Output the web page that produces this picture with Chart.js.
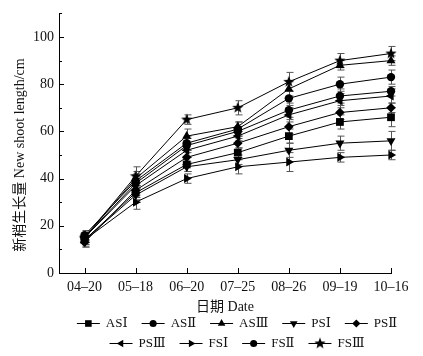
<!DOCTYPE html>
<html lang="zh">
<head>
<meta charset="UTF-8">
<title>New shoot length</title>
<script src="https://cdn.jsdelivr.net/npm/chart.js"></script>
<style>
    body { margin: 0; background: #fff; }
    #wrap { width: 423px; height: 356px; }
</style>
</head>
<body>
<div id="wrap"><canvas id="chart" width="423" height="356"></canvas></div>
<script>
// dates on the x axis
const dates = ["04\u201320", "05\u201318", "06\u201320", "07\u201325", "08\u201326", "09\u201319", "10\u201316"];

// mean new shoot length (cm)
const AS1 = [14, 34, 46, 51, 58, 64, 66];
const AS2 = [15, 38, 54, 60, 69, 75, 77];
const AS3 = [15, 40, 58, 62, 78, 88, 90];
const PS1 = [14, 33, 45, 48, 52, 55, 56];
const PS2 = [13, 35, 49, 55, 62, 68, 70];
const PS3 = [15, 37, 52, 58, 67, 73, 75];
const FS1 = [14, 30, 40, 45, 47, 49, 50];
const FS2 = [16, 39, 55, 61, 74, 80, 83];
const FS3 = [15, 41, 65, 70, 81, 90, 93];

// error bars (+/-)
const AS1err = [2, 3, 3, 2, 3, 3, 4];
const AS2err = [2, 3, 3, 2, 3, 3, 2];
const AS3err = [2, 3, 3, 2, 3, 2, 2];
const PS1err = [2, 3, 2, 2, 3, 3, 4];
const PS2err = [2, 3, 3, 2, 3, 3, 2];
const PS3err = [2, 3, 3, 2, 3, 3, 3];
const FS1err = [3, 3, 2, 3, 4, 2, 2];
const FS2err = [2, 3, 3, 3, 3, 3, 3];
const FS3err = [2, 4, 2, 3, 4, 3, 3];

const yTicks = [0, 20, 40, 60, 80, 100];

const serif = "'Liberation Serif', 'DejaVu Serif', 'Noto Sans CJK SC', serif";

// filled star marker
function makeStar(r) {
    const c = document.createElement("canvas");
    c.width = c.height = r * 2 + 2;
    const ctx = c.getContext("2d");
    ctx.fillStyle = "#000";
    ctx.beginPath();
    for (let i = 0; i < 10; i++) {
        const rr = i % 2 === 0 ? r : r * 0.42;
        const a = -Math.PI / 2 + i * Math.PI / 5;
        const px = r + 1 + rr * Math.cos(a), py = r + 1 + rr * Math.sin(a);
        if (i === 0) ctx.moveTo(px, py); else ctx.lineTo(px, py);
    }
    ctx.closePath();
    ctx.fill();
    return c;
}
const star = makeStar(6);

function pts(arr) {
    return arr.map((v, i) => ({ x: i, y: v }));
}

function series(label, arr, err, style, radius, rot) {
    return {
        label: label,
        data: pts(arr),
        err: err,
        borderColor: "#000",
        backgroundColor: "#000",
        borderWidth: 1,
        pointStyle: style,
        pointRadius: radius,
        pointRotation: rot || 0,
        pointBorderWidth: 0,
        pointBackgroundColor: "#000",
        tension: 0,
        clip: false
    };
}

const datasets = [
    series("AS\u2160", AS1, AS1err, "rect", 5.5),
    series("AS\u2161", AS2, AS2err, "circle", 4.2),
    series("AS\u2162", AS3, AS3err, "triangle", 5.2),
    series("PS\u2160", PS1, PS1err, "triangle", 5.2, 180),
    series("PS\u2161", PS2, PS2err, "rectRot", 4.8),
    series("PS\u2162", PS3, PS3err, "triangle", 5.2, 270),
    series("FS\u2160", FS1, FS1err, "triangle", 5.2, 90),
    series("FS\u2161", FS2, FS2err, "circle", 4.2),
    series("FS\u2162", FS3, FS3err, star, 6)
];

const extras = {
    id: "extras",
    beforeDatasetsDraw(chart) {
        const ctx = chart.ctx;
        const xs = chart.scales.x, ys = chart.scales.y;
        ctx.save();
        ctx.strokeStyle = "#555";
        ctx.lineWidth = 1;
        chart.data.datasets.forEach(ds => {
            ds.data.forEach((p, i) => {
                const e = ds.err[i];
                const x = Math.round(xs.getPixelForValue(p.x)) + 0.5;
                const y1 = ys.getPixelForValue(p.y + e), y2 = ys.getPixelForValue(p.y - e);
                ctx.beginPath();
                ctx.moveTo(x, y1); ctx.lineTo(x, y2);
                ctx.moveTo(x - 3, y1); ctx.lineTo(x + 4, y1);
                ctx.moveTo(x - 3, y2); ctx.lineTo(x + 4, y2);
                ctx.stroke();
            });
        });
        ctx.restore();
    },
    afterDraw(chart) {
        const ctx = chart.ctx;
        const xs = chart.scales.x, ys = chart.scales.y;
        const area = chart.chartArea;
        ctx.save();
        ctx.strokeStyle = "#000";
        ctx.fillStyle = "#000";
        ctx.lineWidth = 1;
        // inward ticks
        ctx.beginPath();
        for (let v = 0; v <= 110; v += 10) {
            const y = Math.round(ys.getPixelForValue(v)) + 0.5;
            const len = v % 20 === 0 ? 5 : 3;
            ctx.moveTo(area.left, y); ctx.lineTo(area.left + len, y);
        }
        dates.forEach((d, i) => {
            const x = Math.round(xs.getPixelForValue(i)) + 0.5;
            ctx.moveTo(x, area.bottom); ctx.lineTo(x, area.bottom - 5);
        });
        ctx.stroke();

        // axis titles
        ctx.fillStyle = "#111";
        ctx.font = "14px " + serif;
        ctx.textAlign = "center";
        ctx.textBaseline = "middle";
        ctx.fillText("\u65e5\u671f Date", (area.left + area.right) / 2, area.bottom + 34);
        ctx.save();
        ctx.translate(20, ys.getPixelForValue(50));
        ctx.rotate(-Math.PI / 2);
        ctx.font = "14px " + serif;
        ctx.fillText("\u65b0\u68a2\u751f\u957f\u91cf New shoot length/cm", 0, 0);
        ctx.restore();

        // legend: two rows, line + marker + label
        const rows = [[0, 1, 2, 3, 4], [5, 6, 7, 8]];
        const rowY = [area.bottom + 50, area.bottom + 70];
        const lineW = 23, gap = 6, itemGap = 14;
        ctx.font = "13px " + serif;
        ctx.textAlign = "left";
        rows.forEach((row, r) => {
            const widths = row.map(k => lineW + gap + ctx.measureText(chart.data.datasets[k].label).width);
            const total = widths.reduce((a, b) => a + b, 0) + itemGap * (row.length - 1);
            let x = 237 - total / 2;
            const y = rowY[r];
            row.forEach((k, j) => {
                const ds = chart.data.datasets[k];
                ctx.beginPath();
                ctx.moveTo(x, y + 0.5); ctx.lineTo(x + lineW, y + 0.5);
                ctx.stroke();
                ctx.fillStyle = "#000";
                Chart.helpers.drawPoint(ctx, {
                    pointStyle: ds.pointStyle,
                    rotation: ds.pointRotation,
                    radius: ds.pointRadius * 0.85,
                    borderWidth: 0
                }, x + lineW / 2, y + 0.5);
                ctx.fillStyle = "#111";
                ctx.fillText(ds.label, x + lineW + gap, y + 1);
                x += widths[j] + itemGap;
            });
        });
        ctx.restore();
    }
};

new Chart(document.getElementById("chart"), {
    type: "line",
    data: { datasets: datasets },
    options: {
        responsive: false,
        animation: false,
        layout: { padding: { top: 4, right: 32, bottom: 0, left: 0 } },
        plugins: { legend: { display: false }, tooltip: { enabled: false } },
        scales: {
            x: {
                type: "linear",
                min: -0.5,
                max: 6,
                afterBuildTicks: s => { s.ticks = dates.map((d, i) => ({ value: i })); },
                afterFit: s => { s.height = 83; },
                grid: { display: false, drawTicks: false, tickLength: 0 },
                border: { display: true, color: "#000", width: 1 },
                ticks: {
                    padding: 6,
                    maxRotation: 0,
                    autoSkip: false,
                    color: "#111",
                    font: { family: serif, size: 14 },
                    callback: v => dates[v]
                }
            },
            y: {
                min: 0,
                max: 110,
                afterBuildTicks: s => { s.ticks = yTicks.map(v => ({ value: v })); },
                afterFit: s => { s.width = 59; },
                grid: { display: false, drawTicks: false, tickLength: 0 },
                border: { display: true, color: "#000", width: 1 },
                ticks: {
                    padding: 5,
                    color: "#111",
                    font: { family: serif, size: 14 }
                }
            }
        }
    },
    plugins: [extras]
});
</script>
</body>
</html>
